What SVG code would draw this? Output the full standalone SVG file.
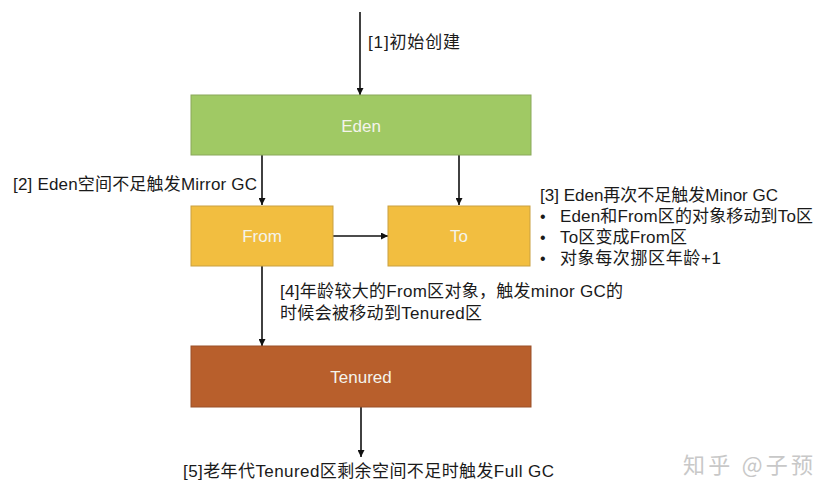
<svg xmlns="http://www.w3.org/2000/svg" width="832" height="498" viewBox="0 0 832 498">
<defs>
<marker id="ah" viewBox="0 0 10 10" refX="10" refY="5" markerWidth="7" markerHeight="7" markerUnits="userSpaceOnUse" orient="auto">
<path d="M0,0 L10,5 L0,10 z" fill="#111"/>
</marker>
</defs>
<style>
.lbl{font-family:"Liberation Sans","Noto Sans CJK SC",sans-serif;font-size:17px;fill:#1a1a1a}
.lst{font-family:"Liberation Sans","Noto Sans CJK SC",sans-serif;font-size:17px;fill:#1a1a1a}
.dot{font-family:"Liberation Sans",sans-serif;font-size:16px;fill:#1a1a1a}
.box{font-family:"Liberation Sans","Noto Sans CJK SC",sans-serif;font-size:17px;fill:#f4f4ec;text-anchor:middle}
.edge{stroke:#111;stroke-width:1.6;fill:none;marker-end:url(#ah)}
.wm{font-family:"Noto Sans CJK SC",sans-serif;font-size:22px;fill:#c8c8c8}
</style>
<rect width="832" height="498" fill="#ffffff"/>
<g id="connectors">
<line class="edge" x1="360" y1="12" x2="360" y2="95"/>
<line class="edge" x1="262" y1="155" x2="262" y2="205"/>
<line class="edge" x1="459" y1="155" x2="459" y2="205"/>
<line class="edge" x1="333" y1="236" x2="388" y2="236"/>
<line class="edge" x1="262" y1="266" x2="262" y2="346"/>
<line class="edge" x1="361" y1="407" x2="361" y2="457"/>
</g>
<g id="eden">
<rect x="191" y="95" width="340" height="60" fill="#a0c964" stroke="#8aa85a" stroke-width="1"/>
<text class="box" x="361" y="132">Eden</text>
</g>
<g id="from">
<rect x="191" y="206" width="142" height="60" fill="#f2be40" stroke="#c9a040" stroke-width="1"/>
<text class="box" x="262" y="242">From</text>
</g>
<g id="to">
<rect x="388" y="206" width="142" height="60" fill="#f2be40" stroke="#c9a040" stroke-width="1"/>
<text class="box" x="459" y="242">To</text>
</g>
<g id="tenured">
<rect x="191" y="346" width="340" height="61" fill="#b85f2c" stroke="#9a5028" stroke-width="1"/>
<text class="box" x="361" y="383">Tenured</text>
</g>
<g id="labels">
<text class="lbl" x="368" y="48" textLength="92">[1]初始创建</text>
<text class="lbl" x="13" y="190" textLength="244">[2] Eden空间不足触发Mirror GC</text>
<text class="lst" x="540" y="201" textLength="238">[3] Eden再次不足触发Minor GC</text>
<text class="dot" x="540" y="222">•</text>
<text class="lst" x="560" y="222" textLength="253">Eden和From区的对象移动到To区</text>
<text class="dot" x="540" y="243">•</text>
<text class="lst" x="560" y="243" textLength="127">To区变成From区</text>
<text class="dot" x="540" y="264">•</text>
<text class="lst" x="560" y="264" textLength="161">对象每次挪区年龄+1</text>
<text class="lbl" x="280" y="297" textLength="343">[4]年龄较大的From区对象，触发minor GC的</text>
<text class="lbl" x="280" y="319" textLength="202">时候会被移动到Tenured区</text>
<text class="lbl" x="183" y="477" textLength="371">[5]老年代Tenured区剩余空间不足时触发Full  GC</text>
<text class="wm" x="683" y="473" textLength="130">知乎 @子预</text>
</g>
</svg>
